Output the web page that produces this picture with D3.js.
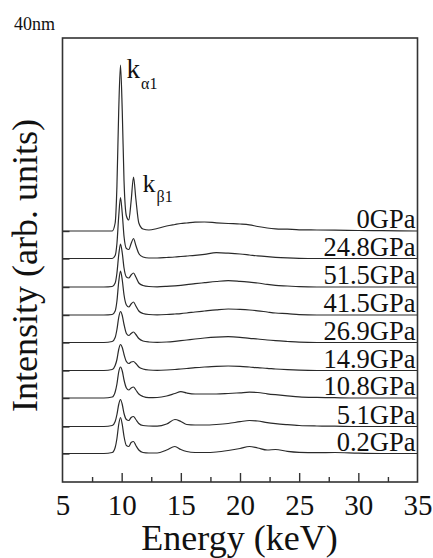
<!DOCTYPE html>
<html>
<head>
<meta charset="utf-8">
<script src="https://cdn.jsdelivr.net/npm/d3@7"></script>
<style>
  body { margin: 0; background: #fff; }
  svg { display: block; }
  svg text { font-family: "Liberation Serif", "Times New Roman", serif; }
</style>
</head>
<body>
<script>
// energy grid (keV), shared by every spectrum
var energy = [5, 7, 8.5, 9.2, 9.45, 9.6, 9.75, 9.9, 10.05, 10.2, 10.4, 10.6, 10.8, 11.0, 11.2, 11.45, 11.8, 12.3,
  13, 13.8, 14.5, 15, 15.5, 16.2, 17, 18, 19, 20, 20.8, 21.5, 22.3, 23, 24, 25, 26.5, 28, 30, 32, 35];

// intensities above each curve's own baseline (arb. units)
var gpa0    = [0, 0, 0, 0, 8, 45, 120, 166, 120, 50, 15, 11, 30, 54, 32, 8, 2, 1,
  2.5, 5, 6.5, 7.5, 8, 8.8, 9, 8.2, 7.5, 7, 6.2, 4.5, 3, 2.2, 1.8, 1.2, 1, 0.8, 0.5, 0.3, 0];
var gpa24_8 = [0, 0, 0, 0, 3, 15, 42, 61, 45, 22, 10, 9, 15, 20, 13, 5, 1.5, 0.5,
  0.5, 1, 1.5, 2, 2.5, 3.2, 4.2, 5.8, 5.3, 4.5, 3.5, 2.6, 1.8, 1.2, 0.6, 0.2, 0, 0, 0, 0, 0];
var gpa51_5 = [0, 0, 0, 0.5, 4, 14, 32, 43, 34, 19, 10, 9, 12, 14, 10, 4, 1.5, 0.5,
  0.2, 0.6, 1.2, 1.7, 2.3, 3.3, 4.3, 5.5, 6.3, 5.6, 4.8, 4, 2.6, 1.7, 1, 0.3, 0, 0, 0, 0, 0];
var gpa41_5 = [0, 0, 0, 0.5, 4, 14, 33, 44, 35, 20, 10, 8, 11, 13, 9, 4, 1.5, 0.5,
  0.2, 0.5, 1, 1.4, 2, 3, 4, 5.2, 6, 5.6, 5, 4.2, 3, 2, 1.4, 0.4, 0, 0, 0, 0, 0];
var gpa26_9 = [0, 0, 0, 1, 5, 13, 25, 31, 27, 18, 9, 7, 9, 10.5, 8, 4, 1.5, 0.5,
  0.1, 0.5, 1.2, 1.8, 2.5, 3.5, 4.5, 5.4, 5.8, 5.2, 4.2, 3.5, 2.5, 1.8, 1, 0.3, 0, 0, 0, 0, 0];
var gpa14_9 = [0, 0, 0, 1, 5, 11, 21, 26, 23, 16, 9, 7, 8.5, 9, 7, 3.5, 1.5, 0.5,
  0.2, 0.5, 1, 1.5, 2, 2.8, 3.5, 4.2, 4.5, 4.2, 3.5, 2.8, 2.2, 1.5, 0.8, 0.3, 0, 0, 0, 0, 0];
var gpa10_8 = [0, 0, 0, 1, 6, 14, 26, 31, 27, 18, 10, 8, 10, 11, 8, 4, 1.5, 0.3,
  0.5, 2, 4.5, 6.3, 5, 4, 4, 4, 4.5, 5.2, 5.8, 5.5, 4.2, 3.3, 2.2, 1.2, 0.6, 0.3, 0, 0, 0];
var gpa5_1  = [0, 0, 0, 1, 5, 12, 22, 27, 22, 13, 7, 6, 9, 10, 7, 3, 1, 0.5,
  0.3, 2.5, 7, 5, 2, 1.5, 1.5, 2, 3, 4.8, 6, 5.5, 3.8, 2.8, 1.8, 1, 0.5, 0.3, 0, 0, 0];
var gpa0_2  = [0, 0, 0, 1, 6, 15, 29, 36, 29, 17, 8, 7, 11, 12, 8, 3.5, 1, 0.5,
  0.5, 3.5, 7, 4, 2, 1, 1, 1.5, 3, 5, 7, 5.5, 3.5, 4, 2.2, 1.2, 0.8, 1, 0.3, 0, 0];

// top to bottom, with the stacking offset (baseline) of each curve
var labels  = ["0GPa", "24.8GPa", "51.5GPa", "41.5GPa", "26.9GPa", "14.9GPa", "10.8GPa", "5.1GPa", "0.2GPa"];
var offsets = [251, 223.5, 195, 167, 139.5, 111.5, 84, 55.5, 28.5];
var spectra = [gpa0, gpa24_8, gpa51_5, gpa41_5, gpa26_9, gpa14_9, gpa10_8, gpa5_1, gpa0_2];

var xMajor = [10, 15, 20, 25, 30];
var xMinor = [7.5, 12.5, 17.5, 22.5, 27.5, 32.5];
var xLabels = [5, 10, 15, 20, 25, 30, 35];

var W = 433, H = 558;
var plotL = 62.5, plotR = 417.5, plotT = 38, plotB = 482;
var serif = "Liberation Serif";

var x = d3.scaleLinear().domain([5, 35]).range([plotL, plotR]);
var y = d3.scaleLinear().domain([0, 444]).range([plotB, plotT]);

var svg = d3.select("body").append("svg")
  .attr("width", W)
  .attr("height", H)
  .attr("font-family", serif);

// bottom ticks, pointing inside
svg.append("g")
  .attr("transform", "translate(0," + plotB + ")")
  .call(d3.axisBottom(x).tickValues(xMajor).tickSize(-9).tickFormat(""))
  .call(function(g) { g.select(".domain").remove(); });

svg.append("g")
  .attr("transform", "translate(0," + plotB + ")")
  .call(d3.axisBottom(x).tickValues(xMinor).tickSize(-5).tickFormat(""))
  .call(function(g) { g.select(".domain").remove(); });

// bottom tick labels
var xl = svg.append("g")
  .attr("transform", "translate(0," + plotB + ")")
  .call(d3.axisBottom(x).tickValues(xLabels).tickSize(0).tickFormat(d3.format("d")));
xl.select(".domain").remove();
xl.attr("font-family", serif).attr("font-size", null);
xl.selectAll("text")
  .attr("y", 33).attr("dy", null)
  .attr("font-family", serif)
  .attr("font-size", 29).attr("fill", "#111");

// left ticks at each baseline
svg.append("g")
  .attr("transform", "translate(" + plotL + ",0)")
  .call(d3.axisLeft(y).tickValues(offsets).tickSize(-7).tickFormat(""))
  .call(function(g) { g.select(".domain").remove(); });

svg.selectAll(".tick line").attr("stroke", "#333").attr("stroke-width", 1.4);

// spectra
var line = d3.line()
  .x(function(d) { return x(d[0]); })
  .y(function(d) { return y(d[1]); })
  .curve(d3.curveMonotoneX);

spectra.forEach(function(vals, i) {
  var pts = energy.map(function(e, j) { return [e, offsets[i] + vals[j]]; });
  svg.append("path")
    .attr("d", line(pts))
    .attr("fill", "none")
    .attr("stroke", "#2a2a2a")
    .attr("stroke-width", 1.2);

  svg.append("text")
    .attr("x", plotR - 2)
    .attr("y", y(offsets[i]) - 3)
    .attr("text-anchor", "end")
    .attr("font-family", serif)
    .attr("font-size", 26.5)
    .attr("fill", "#111")
    .text(labels[i]);
});

// frame
svg.append("rect")
  .attr("x", plotL).attr("y", plotT)
  .attr("width", plotR - plotL).attr("height", plotB - plotT)
  .attr("fill", "none")
  .attr("stroke", "#333")
  .attr("stroke-width", 1.6);

// peak labels
var ka = svg.append("text").attr("x", 126.5).attr("y", 77.5)
  .attr("font-family", serif).attr("font-size", 27).attr("fill", "#111");
ka.append("tspan").text("k");
ka.append("tspan").attr("dy", 11).attr("dx", 1).attr("font-size", 16).text("α1");

var kb = svg.append("text").attr("x", 142.5).attr("y", 191.5)
  .attr("font-family", serif).attr("font-size", 26).attr("fill", "#111");
kb.append("tspan").text("k");
kb.append("tspan").attr("dy", 10.5).attr("dx", 1).attr("font-size", 16).text("β1");

// titles
svg.append("text")
  .attr("x", 14).attr("y", 30)
  .attr("font-family", serif)
  .attr("font-size", 18).attr("fill", "#111")
  .text("40nm");

svg.append("text")
  .attr("x", 239.5).attr("y", 550)
  .attr("text-anchor", "middle")
  .attr("font-family", serif)
  .attr("font-size", 36).attr("fill", "#111")
  .text("Energy (keV)");

svg.append("text")
  .attr("transform", "translate(37,265.5) rotate(-90)")
  .attr("text-anchor", "middle")
  .attr("font-family", serif)
  .attr("font-size", 36).attr("fill", "#111")
  .text("Intensity (arb. units)");
</script>
</body>
</html>
